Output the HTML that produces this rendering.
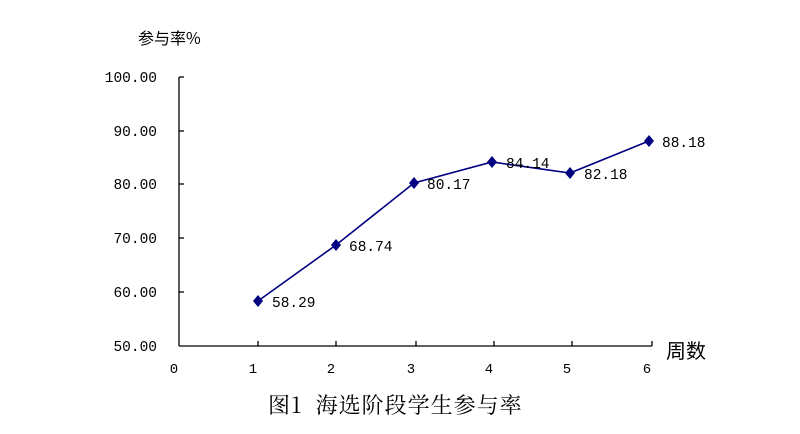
<!DOCTYPE html>
<html><head><meta charset="utf-8"><style>body{margin:0;background:#fff}svg{display:block}</style></head>
<body>
<svg width="800" height="434" xmlns="http://www.w3.org/2000/svg" font-family="'Liberation Mono','Noto Sans CJK SC',monospace">
<rect width="800" height="434" fill="#fff"/>
<g stroke="#000" stroke-width="1.3" fill="none">
<line x1="179" y1="77" x2="179" y2="346"/>
<line x1="179" y1="346" x2="652" y2="346"/>
<line x1="179" y1="77" x2="184" y2="77"/>
<line x1="179" y1="131" x2="184" y2="131"/>
<line x1="179" y1="184" x2="184" y2="184"/>
<line x1="179" y1="238" x2="184" y2="238"/>
<line x1="179" y1="292" x2="184" y2="292"/>
<line x1="258" y1="346" x2="258" y2="341"/>
<line x1="336" y1="346" x2="336" y2="341"/>
<line x1="416" y1="346" x2="416" y2="341"/>
<line x1="494" y1="346" x2="494" y2="341"/>
<line x1="572" y1="346" x2="572" y2="341"/>
<line x1="652" y1="346" x2="652" y2="341"/>
</g>
<g font-size="14.5" fill="#000" text-anchor="end">
<text x="157" y="82">100.00</text>
<text x="157" y="136">90.00</text>
<text x="157" y="189">80.00</text>
<text x="157" y="243">70.00</text>
<text x="157" y="297">60.00</text>
<text x="157" y="351">50.00</text>
</g>
<g font-size="14" fill="#000" text-anchor="middle">
<text x="174" y="373">0</text>
<text x="253" y="373">1</text>
<text x="331" y="373">2</text>
<text x="411" y="373">3</text>
<text x="489" y="373">4</text>
<text x="567" y="373">5</text>
<text x="647" y="373">6</text>
</g>
<text x="138" y="44" font-size="16" font-family="'Noto Sans CJK SC',sans-serif">参与率%</text>
<text x="666" y="358" font-size="20" font-family="'Noto Sans CJK SC',sans-serif">周数</text>
<text x="268" y="413" font-size="22" letter-spacing="1" font-family="'Noto Serif CJK SC',serif" xml:space="preserve">图1  海选阶段学生参与率</text>
<polyline points="258,301 336,245 414,183 492,162 570,173 649,141" fill="none" stroke="#000080" stroke-width="1.6"/>
<g fill="#000080">
<path d="M258,295 l5,6 -5,6 -5,-6z"/>
<path d="M336,239 l5,6 -5,6 -5,-6z"/>
<path d="M414,177 l5,6 -5,6 -5,-6z"/>
<path d="M492,156 l5,6 -5,6 -5,-6z"/>
<path d="M570,167 l5,6 -5,6 -5,-6z"/>
<path d="M649,135 l5,6 -5,6 -5,-6z"/>
</g>
<g font-size="14.5" fill="#000">
<text x="272" y="307">58.29</text>
<text x="349" y="251">68.74</text>
<text x="427" y="189">80.17</text>
<text x="506" y="168">84.14</text>
<text x="584" y="179">82.18</text>
<text x="662" y="147">88.18</text>
</g>
</svg>
</body></html>
